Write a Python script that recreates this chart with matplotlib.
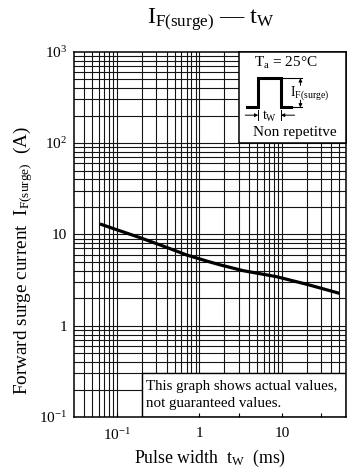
import numpy as np
import matplotlib
matplotlib.use('Agg')
import matplotlib.pyplot as plt
from matplotlib.patches import Rectangle

plt.rcParams['font.family'] = ['Liberation Serif', 'DejaVu Serif']
plt.rcParams['mathtext.fontset'] = 'custom'
plt.rcParams['mathtext.rm'] = 'Liberation Serif'
plt.rcParams['mathtext.it'] = 'Liberation Serif:italic'

# data
pulse_width = [0.062, 0.1, 0.19, 0.4, 0.7, 1.3, 1.8, 3.4, 8.6, 20, 50]   # ms
surge_current = [13.0, 11.2, 9.2, 7.2, 5.94, 5.02, 4.62, 4.0, 3.44, 2.84, 2.26]  # A

x_range = [0.03, 60]
y_range = [0.1, 1000]
x_ticks = [0.1, 1, 3, 10, 30]
x_ticklabels = ['$10^{-1}$', '1', '', '10', '']
y_ticks = [0.1, 1, 10, 100, 1000]
y_ticklabels = ['$10^{-1}$', '1', '10', '$10^{2}$', '$10^{3}$']

W, H = 352, 476
fig = plt.figure(figsize=(W/100, H/100), dpi=100)
ax = fig.add_axes([74/W, 1-417/H, (346-74)/W, (417-51.7)/H])
ax.set_xscale('log')
ax.set_yscale('log')
ax.set_xlim(x_range)
ax.set_ylim(y_range)

# log grid drawn by hand so the boxes can sit on top of it
grid_vals = [m*10.0**k for k in range(-2, 4) for m in range(1, 10)]
for v in grid_vals:
    if x_range[0] < v < x_range[1]:
        ax.axvline(v, color='#141414', lw=0.8, zorder=1)
    if y_range[0] < v < y_range[1]:
        ax.axhline(v, color='#141414', lw=0.8, zorder=1)

ax.plot(pulse_width, surge_current, color='black', lw=2.3, zorder=4,
        solid_capstyle='butt')

ax.set_axisbelow(False)
ax.set_xticks(x_ticks)
ax.set_xticklabels(x_ticklabels)
ax.set_yticks(y_ticks)
ax.set_yticklabels(y_ticklabels)
ax.minorticks_off()
ax.tick_params(axis='x', direction='in', length=3, width=0.8, pad=7, labelsize=11)
ax.tick_params(axis='y', length=0, pad=5, labelsize=11)
for s in ax.spines.values():
    s.set_linewidth(1.1)
    s.set_zorder(5)

# note box bottom right
ax.add_patch(Rectangle((0.2, 0.1), 60-0.2, 0.3-0.1, facecolor='white',
                       edgecolor='black', lw=1.0, zorder=2))
ax.text(0.222, 0.215, 'This graph shows actual values,', fontsize=10.8,
        va='center', ha='left', zorder=3)
ax.text(0.222, 0.142, 'not guaranteed values.', fontsize=10.8,
        va='center', ha='left', zorder=3)

# conditions box top right
lg = ax.inset_axes([3, 100, 57, 900], transform=ax.transData)
lg.set_xlim(0, 1)
lg.set_ylim(0, 1)
lg.set_xticks([])
lg.set_yticks([])
for s in lg.spines.values():
    s.set_linewidth(1.1)
lg.text(0.44, 0.88, r'$\mathrm{T_a}$ = 25°C', fontsize=11, ha='center', va='center')
lg.plot([0.075, 0.182, 0.182, 0.393, 0.393, 0.49],
        [0.389, 0.389, 0.71, 0.71, 0.389, 0.389], color='black', lw=2.2,
        solid_joinstyle='miter')
lg.plot([0.41, 0.59], [0.71, 0.71], color='black', lw=0.8)
lg.plot([0.41, 0.59], [0.389, 0.389], color='black', lw=0.8)
lg.annotate('', xy=(0.575, 0.71), xytext=(0.575, 0.63),
            arrowprops=dict(arrowstyle='-|>', color='black', lw=0.7,
                            mutation_scale=5, shrinkA=0, shrinkB=0))
lg.annotate('', xy=(0.575, 0.389), xytext=(0.575, 0.47),
            arrowprops=dict(arrowstyle='-|>', color='black', lw=0.7,
                            mutation_scale=5, shrinkA=0, shrinkB=0))
lg.text(0.48, 0.55, r'$\mathrm{I_{F(surge)}}$', fontsize=10, ha='left', va='center')
lg.annotate('', xy=(0.182, 0.305), xytext=(0.06, 0.305),
            arrowprops=dict(arrowstyle='-|>', color='black', lw=0.7,
                            mutation_scale=5, shrinkA=0, shrinkB=0))
lg.annotate('', xy=(0.393, 0.305), xytext=(0.52, 0.305),
            arrowprops=dict(arrowstyle='-|>', color='black', lw=0.7,
                            mutation_scale=5, shrinkA=0, shrinkB=0))
lg.plot([0.182, 0.182], [0.25, 0.36], color='black', lw=0.7)
lg.plot([0.393, 0.393], [0.25, 0.36], color='black', lw=0.7)
lg.text(0.287, 0.29, r'$\mathrm{t_W}$', fontsize=10, ha='center', va='center')
lg.text(0.52, 0.11, 'Non repetitve', fontsize=11, ha='center', va='center')

fig.text(211/W, 1-20/H, r'$\mathrm{I_{F(surge)}}$ — $\mathrm{t_W}$', fontsize=17.5,
         ha='center', va='center')
fig.text(210/W, 1-458/H, r'Pulse width  $\mathrm{t_W}$  (ms)', fontsize=12.8,
         ha='center', va='center')
fig.text(23/W, 1-260/H, r'Forward surge current  $\mathrm{I_{F(surge)}}$  (A)',
         fontsize=13.8, ha='center', va='center', rotation=90)

fig.savefig('out.png', dpi=100, facecolor='white')
